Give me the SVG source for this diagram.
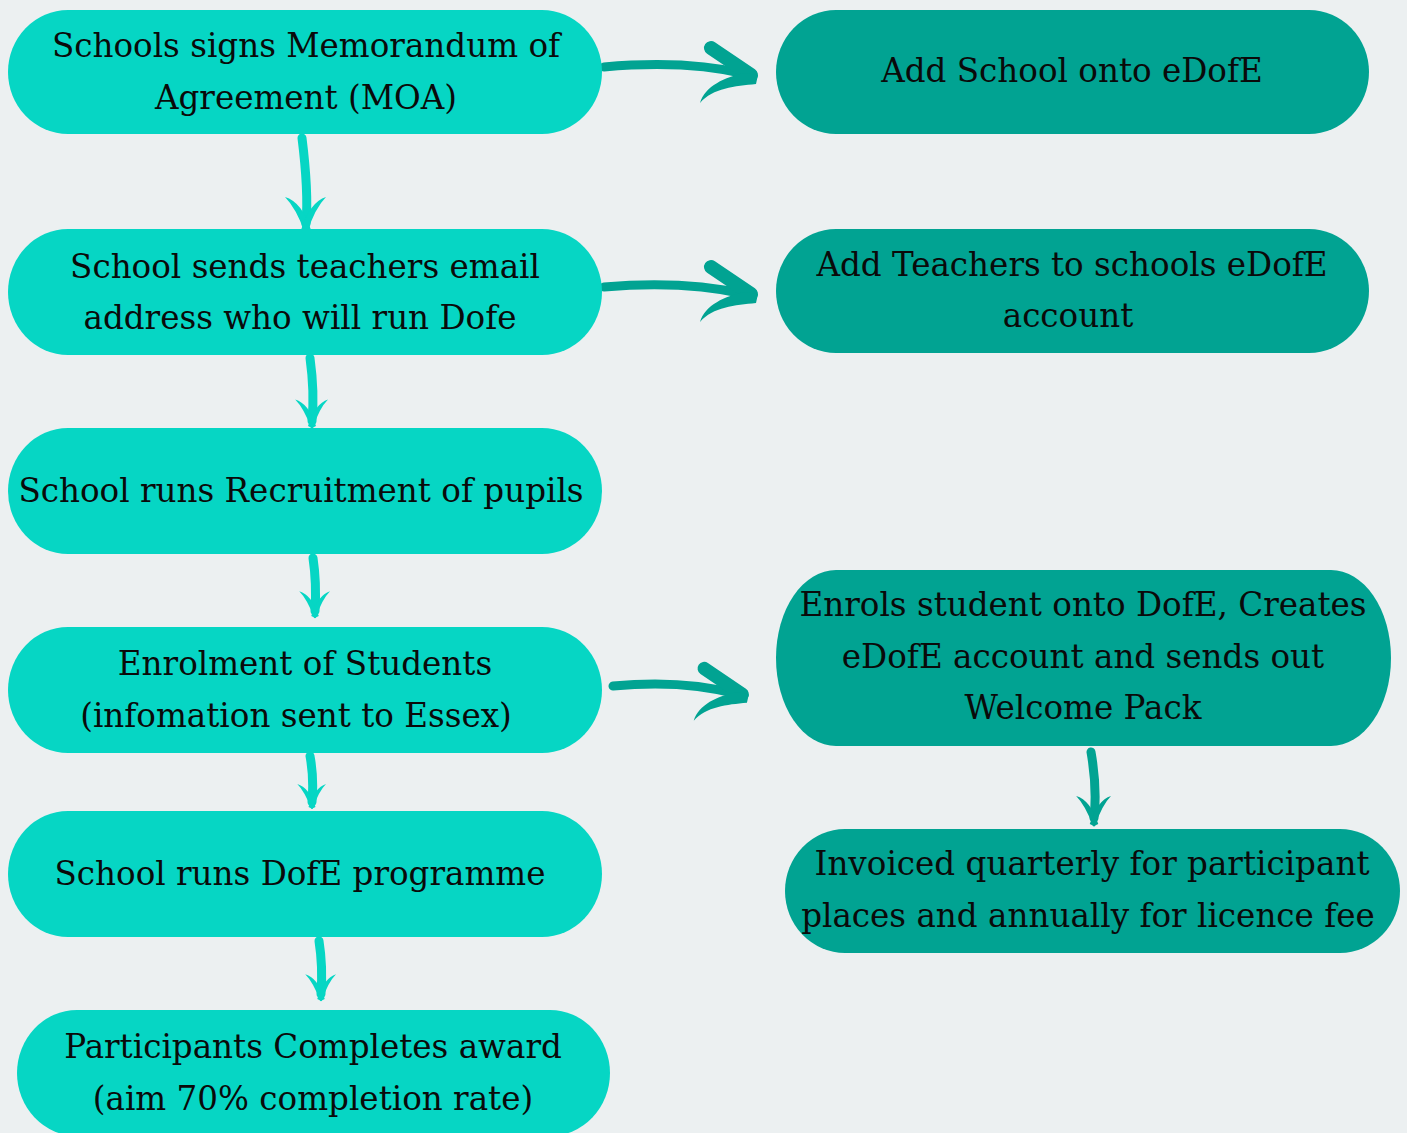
<svg xmlns="http://www.w3.org/2000/svg" width="1407" height="1133" viewBox="0 0 1407 1133">
<defs>
<style>
.lt{fill:#06d6c4}
.dk{fill:#01a392}
.t{font-family:"DejaVu Serif","Liberation Serif",serif;font-size:32.6px;fill:#0a0a0a;text-anchor:middle}
.sl{stroke:#06d6c4;fill:none;stroke-width:9;stroke-linecap:round}
.sd{stroke:#01a392;fill:none;stroke-width:9;stroke-linecap:round}
.bd{stroke:#01a392;fill:none;stroke-width:14;stroke-linecap:round;stroke-linejoin:round}
</style>
<g id="headR">
<path d="M-44,-30 L-4,-3" class="bd"/>
<path d="M3,-3 L1,6 C-20,8 -42,10 -55,25 C-50,8 -30,-1 -10,-5 Z" class="dk"/>
</g>
<g id="headDL">
<path d="M-21,-33 Q-10,-22 -1,3 L5,0 Q-4,-28 -21,-33 Z" class="lt"/>
<path d="M20,-33 Q9,-22 1,3 L-5,0 Q4,-28 20,-33 Z" class="lt"/>
</g>
<g id="headDD">
<path d="M-21,-33 Q-10,-22 -1,3 L5,0 Q-4,-28 -21,-33 Z" class="dk"/>
<path d="M20,-33 Q9,-22 1,3 L-5,0 Q4,-28 20,-33 Z" class="dk"/>
</g>
</defs>
<rect width="1407" height="1133" fill="#ecf0f1"/>
<g id="connectors">
<path d="M604,67 C650,63 700,63 745,74" class="sd"/>
<use href="#headR" transform="translate(755,78)"/>
<path d="M604,287 C650,283 700,284 745,294" class="sd"/>
<use href="#headR" transform="translate(755,297)"/>
<path d="M613,686 C655,682 700,684 737,694" class="sd"/>
<use href="#headR" transform="translate(746,697) scale(0.95)"/>
<path d="M302,138 C306,170 308,200 306,224" class="sl"/>
<use href="#headDL" transform="translate(306,230)"/>
<path d="M310,358 C313,380 314,400 312,421" class="sl"/>
<use href="#headDL" transform="translate(312,426) scale(0.8)"/>
<path d="M313,558 C316,578 316,595 315,611" class="sl"/>
<use href="#headDL" transform="translate(315,616) scale(0.75)"/>
<path d="M310,756 C313,772 313,790 312,802" class="sl"/>
<use href="#headDL" transform="translate(312,807) scale(0.7)"/>
<path d="M319,941 C322,960 322,980 321,994" class="sl"/>
<use href="#headDL" transform="translate(321,999) scale(0.75)"/>
<path d="M1091,752 C1095,775 1096,800 1094,818" class="sd"/>
<use href="#headDD" transform="translate(1094,824) scale(0.85)"/>
</g>
<g id="n1"><rect x="8" y="10" width="594" height="124" rx="60" ry="62" class="lt"/>
<text class="t" x="306" y="57">Schools signs Memorandum of</text><text class="t" x="306" y="109">Agreement (MOA)</text></g>
<g id="n2"><rect x="8" y="229" width="594" height="126" rx="60" ry="63" class="lt"/>
<text class="t" x="305" y="278">School sends teachers email</text><text class="t" x="300" y="329">address who will run Dofe</text></g>
<g id="n3"><rect x="8" y="428" width="594" height="126" rx="60" ry="63" class="lt"/>
<text class="t" x="301" y="502">School runs Recruitment of pupils</text></g>
<g id="n4"><rect x="8" y="627" width="594" height="126" rx="60" ry="63" class="lt"/>
<text class="t" x="305" y="675">Enrolment of Students</text><text class="t" x="296" y="727">(infomation sent to Essex)</text></g>
<g id="n5"><rect x="8" y="811" width="594" height="126" rx="60" ry="63" class="lt"/>
<text class="t" x="300" y="885">School runs DofE programme</text></g>
<g id="n6"><rect x="17" y="1010" width="593" height="126" rx="60" ry="63" class="lt"/>
<text class="t" x="313" y="1058">Participants Completes award</text><text class="t" x="313" y="1110">(aim 70% completion rate)</text></g>
<g id="n7"><rect x="776" y="10" width="593" height="124" rx="60" ry="62" class="dk"/>
<text class="t" x="1072" y="82">Add School onto eDofE</text></g>
<g id="n8"><rect x="776" y="229" width="593" height="124" rx="60" ry="62" class="dk"/>
<text class="t" x="1072" y="276">Add Teachers to schools eDofE</text><text class="t" x="1068" y="327">account</text></g>
<g id="n9"><rect x="776" y="570" width="615" height="176" rx="60" ry="88" class="dk"/>
<text class="t" x="1083" y="616">Enrols student onto DofE, Creates</text><text class="t" x="1083" y="668">eDofE account and sends out</text><text class="t" x="1083" y="719">Welcome Pack</text></g>
<g id="n10"><rect x="785" y="829" width="615" height="124" rx="60" ry="62" class="dk"/>
<text class="t" x="1092" y="875">Invoiced quarterly for participant</text><text class="t" x="1088" y="927">places and annually for licence fee</text></g>
</svg>
